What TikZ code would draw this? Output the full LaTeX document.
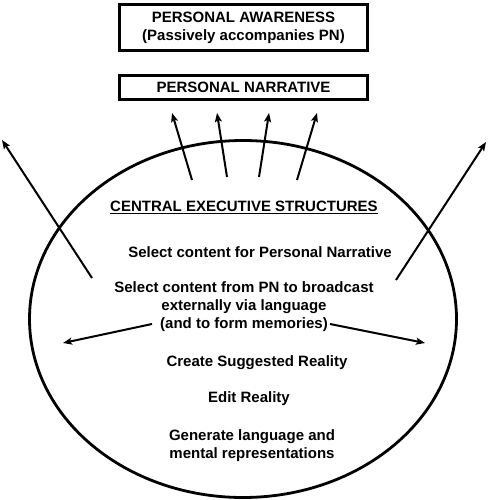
\documentclass[tikz,border=0pt]{standalone}
\usepackage{fontspec}
\setmainfont{Liberation Sans}
\usetikzlibrary{arrows.meta,shapes.geometric,positioning}

\begin{document}
\begin{tikzpicture}[x=1pt,y=-1pt,>={Stealth[length=9pt,width=7pt,inset=2pt]},
  txt/.style={font=\fontsize{15}{18}\selectfont\bfseries,align=center,inner sep=0pt},
  box/.style={txt,draw,line width=2.6pt,minimum width=248pt},
  arr/.style={->,line width=2pt}]
  \useasboundingbox (0,0) rectangle (488,500);

  % outer boxes
  \node[box,minimum height=46pt] (aware) at (243.5,27.5)
        {PERSONAL AWARENESS\\(Passively accompanies PN)};
  \node[box,minimum height=24pt] (narr) at (243.5,87.5) {PERSONAL NARRATIVE};

  % central executive
  \node[draw,ellipse,line width=2.8pt,minimum width=427pt,minimum height=357pt] (ces) at (243,319) {};
  \node[txt] (title) at (244,207) {\underline{CENTRAL EXECUTIVE STRUCTURES}};
  \node[txt] (sel1)  at (260,252) {Select content for Personal Narrative};
  \node[txt] (sel2)  at (244,307) {Select content from PN to broadcast\\externally via language\\(and to form memories)};
  \node[txt] (sugg)  at (257,363) {Create Suggested Reality};
  \node[txt] (edit)  at (249,399) {Edit Reality};
  \node[txt] (gen)   at (252,446) {Generate language and\\mental representations};

  % arrow ends
  \coordinate (u1a) at (192,180); \coordinate (u1b) at (172,113);
  \coordinate (u2a) at (227,177); \coordinate (u2b) at (217,113);
  \coordinate (u3a) at (259,177); \coordinate (u3b) at (269,113);
  \coordinate (u4a) at (297,180); \coordinate (u4b) at (317,113);
  \coordinate (la)  at (92,278);  \coordinate (lb)  at (2,140);
  \coordinate (ra)  at (396,280); \coordinate (rb)  at (486,142);
  \coordinate (ma)  at (152,324); \coordinate (mb)  at (63,343);
  \coordinate (na)  at (330,324); \coordinate (nb)  at (425,343);

  \draw[arr] (u1a) -- (u1b);
  \draw[arr] (u2a) -- (u2b);
  \draw[arr] (u3a) -- (u3b);
  \draw[arr] (u4a) -- (u4b);
  \draw[arr] (la) -- (lb);
  \draw[arr] (ra) -- (rb);
  \draw[arr] (ma) -- (mb);
  \draw[arr] (na) -- (nb);
\end{tikzpicture}
\end{document}
